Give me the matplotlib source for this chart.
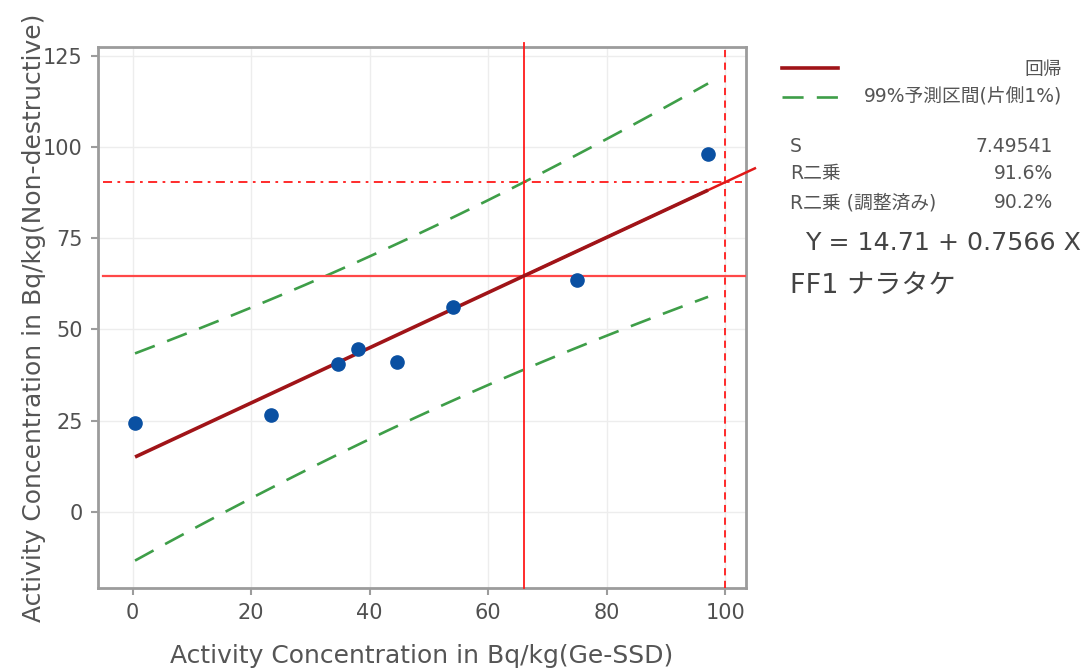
import numpy as np
import matplotlib
matplotlib.use("Agg")
import matplotlib.pyplot as plt
from matplotlib.lines import Line2D

# Measured activity concentrations (Bq/kg)
ge_ssd = [0.4, 23.3, 34.7, 38.1, 44.6, 54.0, 74.9, 97.1]
non_destructive = [24.4, 26.5, 40.4, 44.7, 41.1, 56.1, 63.6, 98.1]

# Fitted regression and summary statistics
intercept = 14.71
slope = 0.7566
s_value = 7.49541
r_sq = "91.6%"
r_sq_adj = "90.2%"
t_crit = 3.1427          # one-sided 1%, df = n - 2 = 6

# Reference readings marked on the chart
x_mark = 66.0
x_limit = 100.0

x_ticks = [0, 20, 40, 60, 80, 100]
y_ticks = [0, 25, 50, 75, 100, 125]

W, H = 1086, 670
fig = plt.figure(figsize=(W / 100, H / 100), dpi=100)
fig.patch.set_facecolor("white")


def fpos(px, py):
    return px / W, 1 - py / H


ax = fig.add_axes([98 / W, 1 - 588 / H, (746 - 98) / W, (588 - 46.7) / H])
ax.set_xlim(-5.85, 103.5)
ax.set_ylim(-20.9, 127.5)

x = np.asarray(ge_ssd)
y = np.asarray(non_destructive)
n = len(x)
xbar = x.mean()
sxx = ((x - xbar) ** 2).sum()

xs = np.linspace(x.min(), x.max(), 200)
fit = intercept + slope * xs
half = t_crit * s_value * np.sqrt(1 + 1 / n + (xs - xbar) ** 2 / sxx)

grid_c = "#ededed"
for t in x_ticks:
    ax.axvline(t, color=grid_c, lw=1.0, zorder=0)
for t in y_ticks:
    ax.axhline(t, color=grid_c, lw=1.0, zorder=0)

green = "#3e9e48"
dash = (0, (8, 5))
ax.plot(xs, fit + half, color=green, lw=1.9, ls=dash, zorder=3)
ax.plot(xs, fit - half, color=green, lw=1.9, ls=dash, zorder=3)

# reading lines
y_mark = intercept + slope * x_mark
y_limit = intercept + slope * x_limit
red = "#ff1a1a"
ax.axvline(x_mark, ymin=0, ymax=1.0075, color=red, lw=1.3, clip_on=False, zorder=4)
ax.axhline(y_mark, xmin=0.0073, xmax=1.0, color="#ff4848", lw=1.6, zorder=4)
ax.axvline(x_limit, ymin=0, ymax=1.0, color=red, lw=1.3, ls=(0, (4, 3)), zorder=4)
ax.axhline(y_limit, xmin=0.0073, xmax=0.994, color=red, lw=1.3,
           ls=(0, (5, 3, 1.5, 3)), zorder=4)
xe = np.array([x_mark, 105.0])
ax.plot(xe, intercept + slope * xe, color="#e01818", lw=1.8, clip_on=False, zorder=4)

ax.plot(xs, fit, color="#a01418", lw=2.6, zorder=5, solid_capstyle="butt")
ax.plot(x, y, "o", color="#0a50a2", ms=9.5, mec="#0a50a2", zorder=6)

for side, sp in ax.spines.items():
    sp.set_color("#9c9c9c")
    sp.set_linewidth(2.0)

ax.set_xticks(x_ticks)
ax.set_yticks(y_ticks)
ax.tick_params(axis="both", length=5, width=1.5, color="#9c9c9c",
               labelcolor="#505050", labelsize=15, pad=6)

lab_c = "#555555"
ax.set_xlabel("Activity Concentration in Bq/kg(Ge-SSD)", fontsize=18, color=lab_c)
ax.set_ylabel("Activity Concentration in Bq/kg(Non-destructive)", fontsize=18, color=lab_c)
ax.xaxis.set_label_coords(0.5, -0.104)
ax.yaxis.set_label_coords(-0.080, 0.5)

# legend and summary panel
fam = ["DejaVu Sans", "Noto Sans CJK JP"]
txt_c = "#555555"
fig.add_artist(Line2D([782 / W, 838 / W], [1 - 68 / H] * 2, color="#a01418", lw=2.6))
fig.add_artist(Line2D([782 / W, 838 / W], [1 - 97 / H] * 2, color=green, lw=1.9,
                      ls=(0, (8, 5))))
fig.text(*fpos(1062, 70), "回帰", ha="right", va="center", fontsize=13.5,
         color=txt_c, family=fam)
fig.text(*fpos(1062, 97), "99%予測区間(片側1%)", ha="right", va="center", fontsize=13.5,
         color=txt_c, family=fam)

rows = [("S", f"{s_value:.5f}", 147), ("R二乗", r_sq, 173),
        ("R二乗 (調整済み)", r_sq_adj, 203)]
for name, val, py in rows:
    fig.text(*fpos(790, py), name, ha="left", va="center", fontsize=13.5,
             color=txt_c, family=fam)
    fig.text(*fpos(1053, py), val, ha="right", va="center", fontsize=13.5,
             color=txt_c, family=fam)

fig.text(*fpos(805, 243), f"Y = {intercept:.2f} + {slope:.4f} X", ha="left",
         va="center", fontsize=18.2, color="#444444", family=fam)
fig.text(*fpos(790, 287), "FF1 ナラタケ", ha="left", va="center", fontsize=19.5,
         color="#444444", family=fam)

fig.savefig("out.png", dpi=100)
